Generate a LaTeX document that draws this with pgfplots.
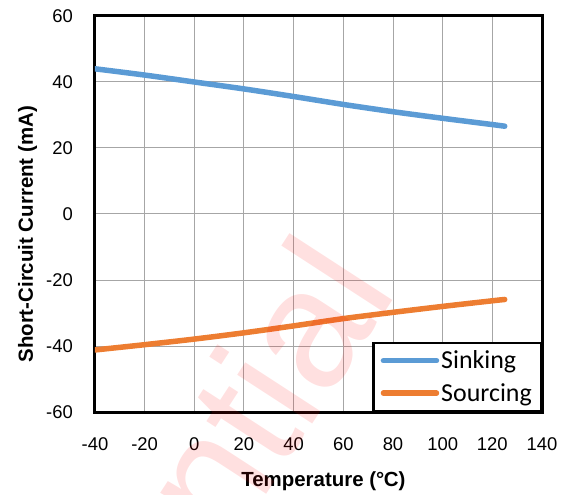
\documentclass[border=0pt]{standalone}
\usepackage{pgfplots}
\pgfplotsset{compat=1.18}
\usepackage{fontspec}
\setmainfont{Liberation Sans}
\newfontfamily\calibri{Carlito}
\usetikzlibrary{calc}
\definecolor{sink}{HTML}{5B9BD5}
\definecolor{src}{HTML}{ED7D31}
\begin{document}
\begin{tikzpicture}
\begin{axis}[
  scale only axis, width=447bp, height=396bp,
  xmin=-40, xmax=140, ymin=-60, ymax=60,
  xtick={-40,-20,...,140}, ytick={-60,-40,...,60},
  grid=major, major grid style={gray!70, line width=1bp},
  major tick length=0pt,
  axis line style={black, line width=3bp},
  /pgf/number format/assume math mode=true,
  tick label style={font=\fontsize{18.5}{20}\selectfont, inner sep=0pt},
  xticklabel style={anchor=north, yshift=-25bp},
  yticklabel style={anchor=east, xshift=-22bp},
  xlabel={Temperature (°\kern-0.02em C)},
  ylabel={Short-Circuit Current (mA)},
  label style={font=\bfseries\fontsize{20.5}{22}\selectfont},
  xlabel style={at={(axis description cs:0.511,0)}, anchor=base, yshift=-74bp},
  ylabel style={at={(axis description cs:-0.1387,0.4487)}, anchor=base},
  legend style={at={(rel axis cs:1,0)}, anchor=south east, draw=black, line width=2.5bp,
    fill=white, font=\calibri\fontsize{26}{28}\selectfont,
    inner xsep=7bp, inner ysep=6bp, row sep=9bp,
    nodes={inner sep=2bp}},
  legend cell align=left,
  legend image code/.code={\draw[#1] (0bp,0bp) -- (53bp,0bp);},
]
\addplot[sink, line width=5.5bp, line cap=round, smooth] coordinates {
(-40,44.0) (-20,42.1) (0,40.0) (20,37.9) (40,35.6) (60,33.2) (80,31.0) (100,29.0) (120,27.1) (125,26.6)};
\addlegendentry{Sinking}
\addplot[src, line width=5.5bp, line cap=round, smooth] coordinates {
(-40,-41.2) (-20,-39.6) (0,-37.9) (20,-36.0) (40,-33.9) (60,-31.7) (80,-29.8) (100,-28.0) (120,-26.3) (125,-25.9)};
\addlegendentry{Sourcing}
\coordinate (ll) at (rel axis cs:0,0);
\coordinate (ur) at (rel axis cs:1,1);
\coordinate (wm) at (axis cs:82.4,-23.3);
\end{axis}
\node[overlay, rotate=57, anchor=base east, text=red, opacity=0.12, inner sep=0pt,
  font=\fontsize{170}{170}\selectfont] at (wm) {Confidential};
\pgfresetboundingbox
\path[use as bounding box] ($(ll)+(-95bp,-83bp)$) rectangle ($(ur)+(27bp,16bp)$);
\end{tikzpicture}
\end{document}
